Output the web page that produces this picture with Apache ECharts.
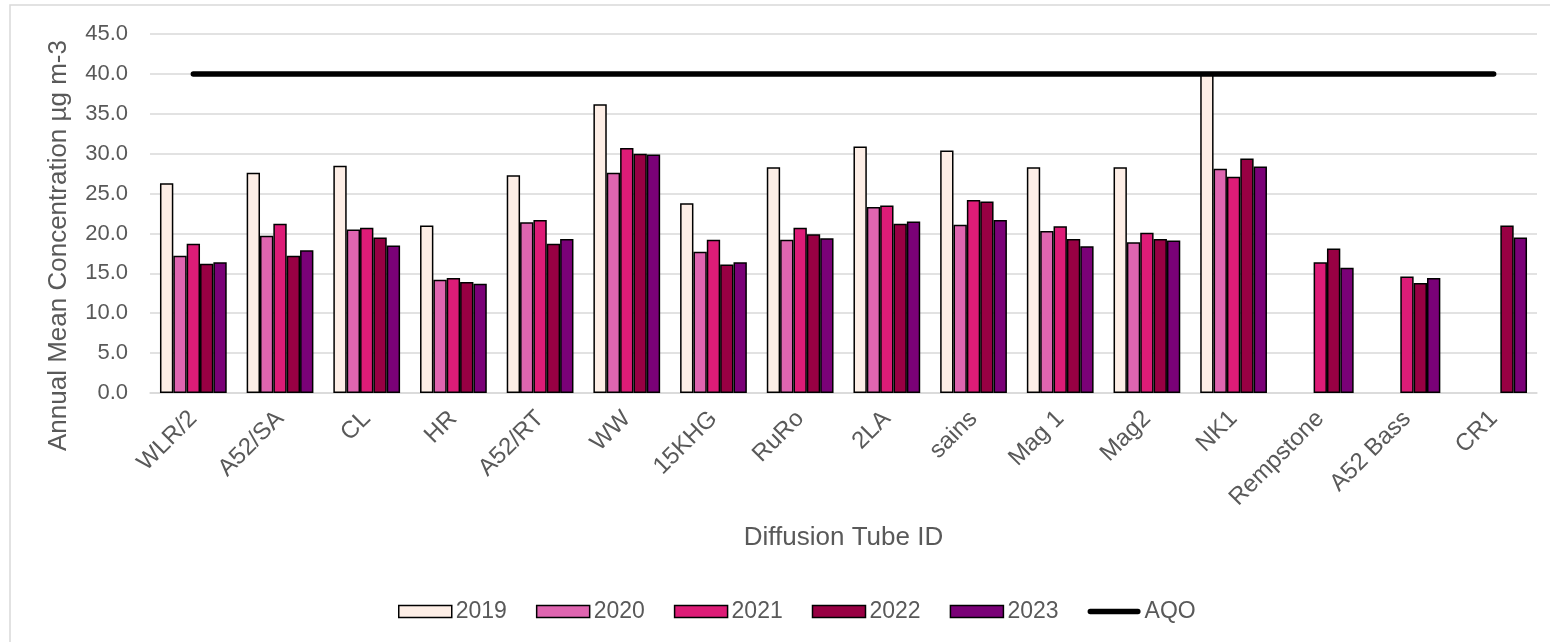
<!DOCTYPE html>
<html>
<head>
<meta charset="utf-8">
<script src="https://cdn.jsdelivr.net/npm/echarts@6/dist/echarts.min.js"></script>
<style>
    html, body {
        margin: 0;
        padding: 0;
        background: #fff;
    }

    #chart {
        width: 1550px;
        height: 642px;
    }
</style>
</head>
<body>
<div id="chart"></div>
<script>
    // 数据
    var categories = ['WLR/2', 'A52/SA', 'CL', 'HR', 'A52/RT', 'WW', '15KHG', 'RuRo', '2LA', 'sains', 'Mag 1', 'Mag2', 'NK1', 'Rempstone', 'A52 Bass', 'CR1'];
    var y2019 = [26.3, 27.6, 28.5, 21.0, 27.3, 36.2, 23.8, 28.3, 30.9, 30.4, 28.3, 28.3, 40.2, null, null, null];
    var y2020 = [17.2, 19.7, 20.5, 14.2, 21.4, 27.6, 17.7, 19.2, 23.3, 21.1, 20.3, 18.9, 28.1, null, null, null];
    var y2021 = [18.7, 21.2, 20.7, 14.4, 21.7, 30.7, 19.2, 20.7, 23.5, 24.2, 20.9, 20.1, 27.1, 16.4, 14.6, null];
    var y2022 = [16.2, 17.2, 19.5, 13.9, 18.7, 30.0, 16.1, 19.9, 21.2, 24.0, 19.3, 19.3, 29.4, 18.1, 13.8, 21.0];
    var y2023 = [16.4, 17.9, 18.5, 13.7, 19.3, 29.9, 16.4, 19.4, 21.5, 21.7, 18.4, 19.1, 28.4, 15.7, 14.4, 19.5];
    var aqo = [40, 40, 40, 40, 40, 40, 40, 40, 40, 40, 40, 40, 40, 40, 40, 40];
    var yearNames = ['2019', '2020', '2021', '2022', '2023'];
    var yearColors = ['#fdeee6', '#df65b0', '#dd1c77', '#980043', '#7a0177'];

    var myChart = echarts.init(document.getElementById('chart'));

    var yearData = [y2019, y2020, y2021, y2022, y2023];
    var series = [];
    var legendData = [];
    for (var i = 0; i < yearNames.length; i++) {
        series.push({
            name: yearNames[i],
            type: 'bar',
            data: yearData[i],
            barGap: '0%',
            barCategoryGap: '23%',
            itemStyle: {
                color: yearColors[i],
                borderColor: '#000',
                borderWidth: 1.5
            }
        });
        legendData.push({
            name: yearNames[i],
            icon: 'rect',
            itemStyle: { borderColor: '#000', borderWidth: 1.5 }
        });
    }
    series.push({
        name: 'AQO',
        type: 'line',
        data: aqo,
        symbol: 'none',
        z: 5,
        lineStyle: {
            color: '#000',
            width: 5.5,
            cap: 'round'
        },
        itemStyle: {
            color: '#000'
        }
    });
    // 图例中的线段
    legendData.push({
        name: 'AQO',
        icon: 'path://M2.5,0 L47.5,0 A2.5,2.5 0 0 1 47.5,5 L2.5,5 A2.5,2.5 0 0 1 2.5,0 Z',
        itemStyle: { color: '#000', borderWidth: 0 }
    });

    var option = {
        animation: false,
        textStyle: {
            fontFamily: 'Liberation Sans, Arial, sans-serif'
        },
        graphic: [{
            type: 'rect',
            shape: { x: 10, y: 5, width: 1600, height: 700 },
            style: { fill: 'none', stroke: '#d9d9d9', lineWidth: 1.5 },
            silent: true
        }],
        grid: {
            left: 150,
            right: 13,
            top: 34,
            bottom: 249
        },
        legend: {
            left: 393,
            top: 595,
            itemWidth: 53,
            itemHeight: 12,
            itemGap: 29,
            symbolKeepAspect: true,
            textStyle: {
                fontSize: 23,
                color: '#595959',
                padding: [0, 0, 0, -1]
            },
            data: legendData
        },
        xAxis: {
            type: 'category',
            data: categories,
            name: 'Diffusion Tube ID',
            nameLocation: 'middle',
            nameGap: 132,
            nameTextStyle: {
                fontSize: 26,
                color: '#595959'
            },
            axisTick: { show: false },
            axisLine: {
                lineStyle: { color: '#d9d9d9', width: 1.5 }
            },
            axisLabel: {
                rotate: 45,
                interval: 0,
                margin: 22,
                fontSize: 24,
                color: '#595959'
            }
        },
        yAxis: {
            type: 'value',
            min: 0,
            max: 45,
            interval: 5,
            name: 'Annual Mean Concentration µg m-3',
            nameLocation: 'middle',
            nameGap: 78,
            nameTextStyle: {
                fontSize: 26,
                color: '#595959',
                padding: [0, 64, 0, 0]
            },
            axisLine: { show: false },
            axisTick: { show: false },
            axisLabel: {
                fontSize: 22,
                margin: 22,
                color: '#595959',
                formatter: function(v) {
                    return v.toFixed(1);
                }
            },
            splitLine: {
                lineStyle: { color: '#d9d9d9', width: 1.5 }
            }
        },
        series: series
    };
    myChart.setOption(option);
</script>
</body>
</html>
